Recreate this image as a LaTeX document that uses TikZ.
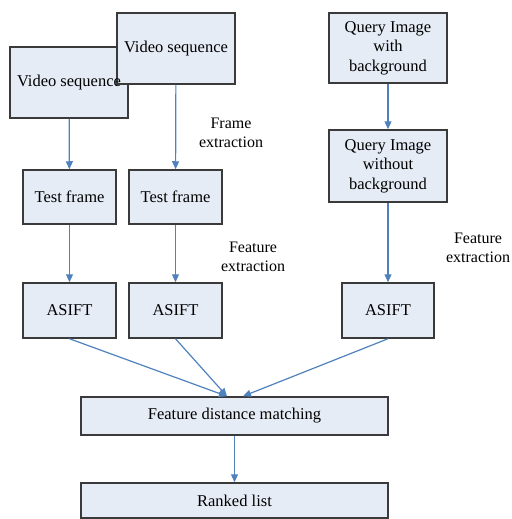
\documentclass[tikz,border=0pt]{standalone}
\usepackage{fontspec}
\setmainfont{Liberation Serif}
\usetikzlibrary{arrows.meta}
\definecolor{boxfill}{HTML}{E6ECF5}
\definecolor{boxline}{HTML}{3A3A3A}
\definecolor{arr}{HTML}{4F81BD}
\begin{document}
\begin{tikzpicture}[x=1pt,y=-1pt,
  box/.style={draw=boxline,fill=boxfill,line width=1.5pt,inner sep=0pt,align=center,
    font=\fontsize{16.5}{19.5}\selectfont},
  lbl/.style={align=center,inner sep=0pt,font=\fontsize{16}{19}\selectfont},
  flow/.style={draw=arr,line width=1.2pt,-{Triangle[length=8pt,width=7pt]}}]
\useasboundingbox (0,0) rectangle (511,519);
% left video branch
\node[box,minimum width=118pt,minimum height=71pt] (vs1) at (69,82.5) {};
\node[box,minimum width=118pt,minimum height=71pt] (vs2) at (176,48.5) {Video sequence};
\node[inner sep=0pt,font=\fontsize{16.5}{19.5}\selectfont] (vs1t) at (vs1.center) {Video sequence};
\node[box,minimum width=93pt,minimum height=54pt] (tf1) at (69.5,197) {Test frame};
\node[box,minimum width=93pt,minimum height=54pt] (tf2) at (175.5,197) {Test frame};
\node[box,minimum width=93pt,minimum height=55pt] (as1) at (69.5,310.5) {ASIFT};
\node[box,minimum width=93pt,minimum height=55pt] (as2) at (175.5,310.5) {ASIFT};
% query branch
\node[box,minimum width=118pt,minimum height=70pt] (q1) at (388,48) {Query Image\\with\\background};
\node[box,minimum width=118pt,minimum height=72pt] (q2) at (388,166) {Query Image\\without\\background};
\node[box,minimum width=92pt,minimum height=55pt] (as3) at (388,310.5) {ASIFT};
% bottom
\node[box,minimum width=307pt,minimum height=38pt] (fdm) at (234.5,416) {Feature distance matching};
\node[box,minimum width=307pt,minimum height=35pt] (rl) at (234.5,500.5) {Ranked list};
% labels
\node[lbl] (l1) at (231,133) {Frame\\extraction};
\node[lbl] (l2) at (253,257) {Feature\\extraction};
\node[lbl] (l3) at (478,248) {Feature\\extraction};
% arrival points
\coordinate (m1) at ([xshift=-7.5pt]fdm.north);
\coordinate (m2) at ([xshift=8.5pt]fdm.north);
% connectors
\draw[flow] (vs1) -- (tf1);
\draw[flow] (vs2) -- (tf2);
\draw[flow] (tf1) -- (as1);
\draw[flow] (tf2) -- (as2);
\draw[flow] (q1) -- (q2);
\draw[flow] (q2) -- (as3);
\draw[flow] (as1.south) -- (m1);
\draw[flow] (as2.south) -- (m1);
\draw[flow] (as3.south) -- (m2);
\draw[flow] (fdm) -- (rl);
\end{tikzpicture}
\end{document}
